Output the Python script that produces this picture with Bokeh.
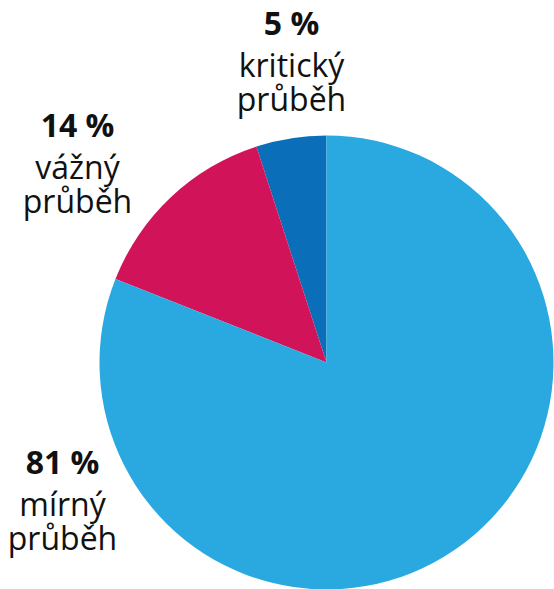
import numpy as np
from bokeh.plotting import figure
from bokeh.models import Range1d, ColumnDataSource
from bokeh.core.properties import value
from bokeh.embed import file_html
from bokeh.resources import INLINE

# ---- data (counter-clockwise order starting at 12 o'clock) ----
categories = ["kritický průběh", "vážný průběh", "mírný průběh"]
percents = [5, 14, 81]
colors = ["#0B6EB8", "#D1145A", "#29A9E0"]

# ---- layout ----
W, H = 554, 589
cx, cy, r = 326, H - 362, 227
label_anchor = [(291, 22), (77, 124), (62, 461)]  # (x center, bold baseline from top)
line_off = [0, 42, 76]
FS = "32px"
FONT = "Open Sans"

vals = np.array(percents, dtype=float)
frac = vals / vals.sum()
start = np.pi / 2 + 2 * np.pi * np.concatenate([[0], np.cumsum(frac)[:-1]])
end = start + 2 * np.pi * frac

p = figure(width=W, height=H, output_backend="svg", toolbar_location=None,
           x_range=Range1d(0, W), y_range=Range1d(0, H), min_border=0)
p.axis.visible = False
p.grid.visible = False
p.outline_line_color = None
p.background_fill_color = "white"

src = ColumnDataSource(dict(start=start, end=end, color=colors))
p.wedge(x=cx, y=cy, radius=r, start_angle="start", end_angle="end",
        fill_color="color", line_color=None, source=src)

bx, by, bt = [], [], []
rx, ry, rt = [], [], []
for (ax, ay), pc, cat in zip(label_anchor, percents, categories):
    bx.append(ax); by.append(H - ay - line_off[0]); bt.append(f"{pc} %")
    for i, w in enumerate(cat.split(" ")):
        rx.append(ax); ry.append(H - ay - line_off[i + 1]); rt.append(w)

p.text(x=bx, y=by, text=bt, text_font=value(FONT), text_font_size=FS,
       text_font_style="bold", text_align="center", text_baseline="alphabetic",
       text_color="#111111")
p.text(x=rx, y=ry, text=rt, text_font=value(FONT), text_font_size=FS,
       text_align="center", text_baseline="alphabetic", text_color="#111111")

open("out.html", "w").write(file_html(p, INLINE))
